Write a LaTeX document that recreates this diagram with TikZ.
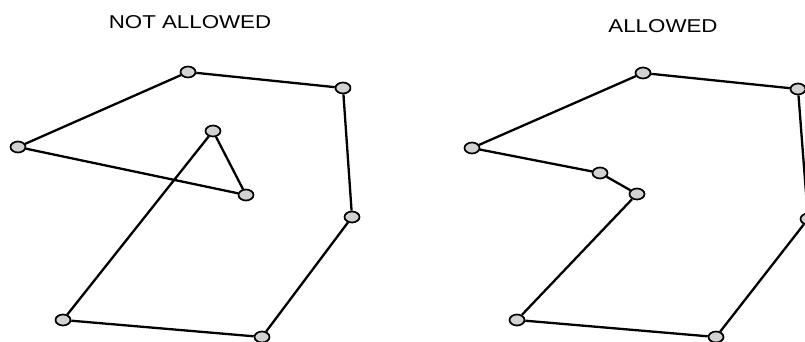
\documentclass[tikz,border=0pt]{standalone}
\usepackage{fontspec}
\setmainfont{Liberation Sans}
\usetikzlibrary{shapes.geometric}
\tikzset{
  vtx/.style={ellipse, draw=black, fill=gray!35, line width=1.7pt, minimum width=15pt, minimum height=11pt, inner sep=0pt},
  edge/.style={draw=black, line width=2.3pt},
  ttl/.style={font=\fontsize{18.6}{20}\selectfont, text=black}
}
\begin{document}
\begin{tikzpicture}[x=1pt,y=-1pt]
\useasboundingbox (0,0) rectangle (805,342);
\clip (0,0) rectangle (805,342);
\node[ttl, xscale=1.2, transform shape] (t1) at (190,22) {NOT ALLOWED};
\node[ttl, xscale=1.2, transform shape] (t2) at (663,26) {ALLOWED};
% left polygon
\node[vtx] (a) at (18,147) {};
\node[vtx] (b) at (188,72) {};
\node[vtx] (c) at (343,88) {};
\node[vtx] (d) at (352,217) {};
\node[vtx] (e) at (262,337) {};
\node[vtx] (f) at (63,320) {};
\node[vtx] (g) at (213,131) {};
\node[vtx] (h) at (246,195) {};
\draw[edge] (a) -- (b);
\draw[edge] (b) -- (c);
\draw[edge] (c) -- (d);
\draw[edge] (d) -- (e);
\draw[edge] (e) -- (f);
\draw[edge] (f) -- (g);
\draw[edge] (g) -- (h);
\draw[edge] (h) -- (a);
% right polygon
\node[vtx] (a2) at (472,148) {};
\node[vtx] (b2) at (643,73) {};
\node[vtx] (c2) at (798,89) {};
\node[vtx] (d2) at (808,219) {};
\node[vtx] (e2) at (716,337) {};
\node[vtx] (f2) at (517,320) {};
\node[vtx] (g2) at (637,194) {};
\node[vtx] (h2) at (600,173) {};
\draw[edge] (a2) -- (b2);
\draw[edge] (b2) -- (c2);
\draw[edge] (c2) -- (d2);
\draw[edge] (d2) -- (e2);
\draw[edge] (e2) -- (f2);
\draw[edge] (f2) -- (g2);
\draw[edge] (g2) -- (h2);
\draw[edge] (h2) -- (a2);
\end{tikzpicture}
\end{document}
